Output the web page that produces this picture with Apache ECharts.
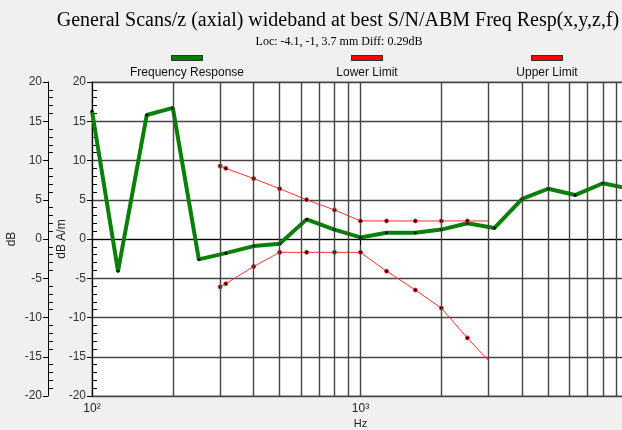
<!DOCTYPE html>
<html>
<head>
<meta charset="utf-8">
<script src="https://cdn.jsdelivr.net/npm/echarts@6/dist/echarts.min.js"></script>
<style>
html,body{margin:0;padding:0;background:#f0f0f0;}
#c{width:622px;height:430px;}
</style>
</head>
<body>
<div id="c"></div>
<script>
// ---- data ----
var freqs = [100,125,160,200,250,315,400,500,630,800,1000,1250,1600,2000,2500,3150,4000,5000,6300,8000,10000];
var response = [16.3,-4.1,15.8,16.7,-2.6,-1.8,-0.9,-0.6,2.5,1.2,0.2,0.8,0.8,1.2,2.0,1.4,5.1,6.4,5.6,7.1,6.4];
var limitFreqs = [300,315,400,500,630,800,1000,1250,1600,2000,2500,3000];
var upperLimit = [9.3,9.0,7.7,6.4,5.0,3.7,2.3,2.3,2.3,2.3,2.3,2.3];
var lowerLimit = [-6.1,-5.7,-3.5,-1.7,-1.7,-1.7,-1.7,-4.1,-6.5,-8.8,-12.6,-15.5];
var minorGridFreqs = [200,300,400,500,600,700,800,900,2000,3000,4000,5000,6000,7000,8000,9000];
var xTickLabels = {100:'10\u00b2', 1000:'10\u00b3'};
var seriesNames = ['Frequency Response','Lower Limit','Upper Limit'];
var titleText = 'General Scans/z (axial) wideband at best S/N/ABM Freq Resp(x,y,z,f)';
var subTitleText = 'Loc: -4.1, -1, 3.7 mm Diff: 0.29dB';

var GREEN = '#0a800a', RED = '#ff3030', GRID = '#444';

function pairs(xs, ys, noMarkLast){
  return xs.map(function(x,i){
    var item = {value:[x, ys[i]]};
    if (noMarkLast && i === xs.length-1) item.symbol = 'none';
    return item;
  });
}

var chart = echarts.init(document.getElementById('c'), null, {renderer:'canvas'});
var yBase = {type:'value', min:-20, max:20, interval:5, position:'left'};
function yAx(extra){ return Object.assign({}, yBase, extra); }

var legendCenters = [181, 361, 541];
var LW = 140;
var legends = seriesNames.map(function(n, i){
  return {
    data:[n], left:legendCenters[i] - LW/2 - 5, top:47, itemWidth:0, itemHeight:0,
    itemStyle:{opacity:0}, selectedMode:false,
    formatter:function(name){ return (name===seriesNames[0]?'{g|}':'{r|}') + '\n{t|' + name + '}'; },
    textStyle:{
      rich:{
        g:{width:30, height:4, backgroundColor:'#008000', borderColor:'#333', borderWidth:1, align:'center'},
        r:{width:30, height:4, backgroundColor:'#ff0000', borderColor:'#333', borderWidth:1, align:'center'},
        t:{width:LW, align:'center', fontFamily:'Liberation Sans', fontSize:12, color:'#111', padding:[7,0,0,0]}
      }
    }
  };
});

chart.setOption({
  animation:false,
  backgroundColor:'#f0f0f0',
  title:[
    {text:titleText, left:333, top:6, textAlign:'center',
     textStyle:{fontFamily:'Liberation Serif', fontSize:20, fontWeight:'normal', color:'#000'}},
    {text:subTitleText, left:334, top:31, textAlign:'center',
     textStyle:{fontFamily:'Liberation Serif', fontSize:12, fontWeight:'normal', color:'#000'}}
  ],
  legend:legends,
  grid:{left:92, top:82, bottom:34, right:-7, show:true, backgroundColor:'#fff', borderColor:'#888', borderWidth:1,
        containLabel:false, outerBoundsMode:'none'},
  xAxis:{
    type:'log', logBase:10, min:100, max:10000,
    name:'Hz', nameLocation:'middle', nameGap:22, nameMoveOverlap:false,
    nameTextStyle:{fontFamily:'Liberation Sans', fontSize:11, color:'#222'},
    axisLine:{show:true, lineStyle:{color:'#000', width:1}},
    axisTick:{show:true, length:6, lineStyle:{color:'#000'}},
    axisLabel:{fontFamily:'Liberation Sans', fontSize:12, color:'#222', margin:7,
      formatter:function(v){ return xTickLabels[Math.round(v)] || ''; }},
    splitLine:{show:true, lineStyle:{color:GRID, width:1.4}},
    minorTick:{show:false}, minorSplitLine:{show:false}
  },
  yAxis:[
    yAx({offset:0, name:'dB A/m', nameLocation:'middle', nameGap:24, nameRotate:90, nameMoveOverlap:false,
      nameTextStyle:{fontFamily:'Liberation Sans', fontSize:12, color:'#222'},
      axisLine:{show:true, lineStyle:{color:'#000'}},
      axisTick:{show:true, length:5, lineStyle:{color:'#000'}},
      axisLabel:{fontFamily:'Liberation Sans', fontSize:12, color:'#333', margin:6},
      splitLine:{show:true, lineStyle:{color:GRID, width:1.4}}}),
    yAx({offset:0, axisLine:{show:false}, axisTick:{show:false, inside:true}, axisLabel:{show:false},
      splitLine:{show:false}, minorTick:{show:true, splitNumber:5, length:5, lineStyle:{color:'#000'}}}),
    yAx({offset:44, name:'dB', nameLocation:'middle', nameGap:30, nameRotate:90, nameMoveOverlap:false,
      nameTextStyle:{fontFamily:'Liberation Sans', fontSize:12, color:'#222'},
      axisLine:{show:true, lineStyle:{color:'#000'}},
      axisTick:{show:true, length:5, lineStyle:{color:'#000'}},
      axisLabel:{fontFamily:'Liberation Sans', fontSize:12, color:'#333', margin:6},
      splitLine:{show:false}}),
    yAx({offset:44, axisLine:{show:false}, axisTick:{show:false, inside:true}, axisLabel:{show:false},
      splitLine:{show:false}, minorTick:{show:true, splitNumber:5, length:5, lineStyle:{color:'#000'}}})
  ],
  series:[
    {type:'line', name:'_grid', data:[], z:1, silent:true,
     markLine:{silent:true, symbol:['none','none'], label:{show:false}, animation:false,
       lineStyle:{type:'solid', color:GRID, width:1.4},
       data:minorGridFreqs.map(function(f){ return {xAxis:f}; })}},
    {type:'line', name:seriesNames[0], data:pairs(freqs, response, false), z:3,
     symbol:'circle', symbolSize:3, showSymbol:true,
     itemStyle:{color:'#000'}, lineStyle:{color:GREEN, width:4}},
    {type:'line', name:seriesNames[1], data:pairs(limitFreqs, lowerLimit, true), z:4,
     symbol:'circle', symbolSize:4, itemStyle:{color:'#000', borderColor:RED, borderWidth:1},
     lineStyle:{color:RED, width:1}},
    {type:'line', name:seriesNames[2], data:pairs(limitFreqs, upperLimit, true), z:4,
     symbol:'circle', symbolSize:4, itemStyle:{color:'#000', borderColor:RED, borderWidth:1},
     lineStyle:{color:RED, width:1}}
  ]
});
</script>
</body>
</html>
